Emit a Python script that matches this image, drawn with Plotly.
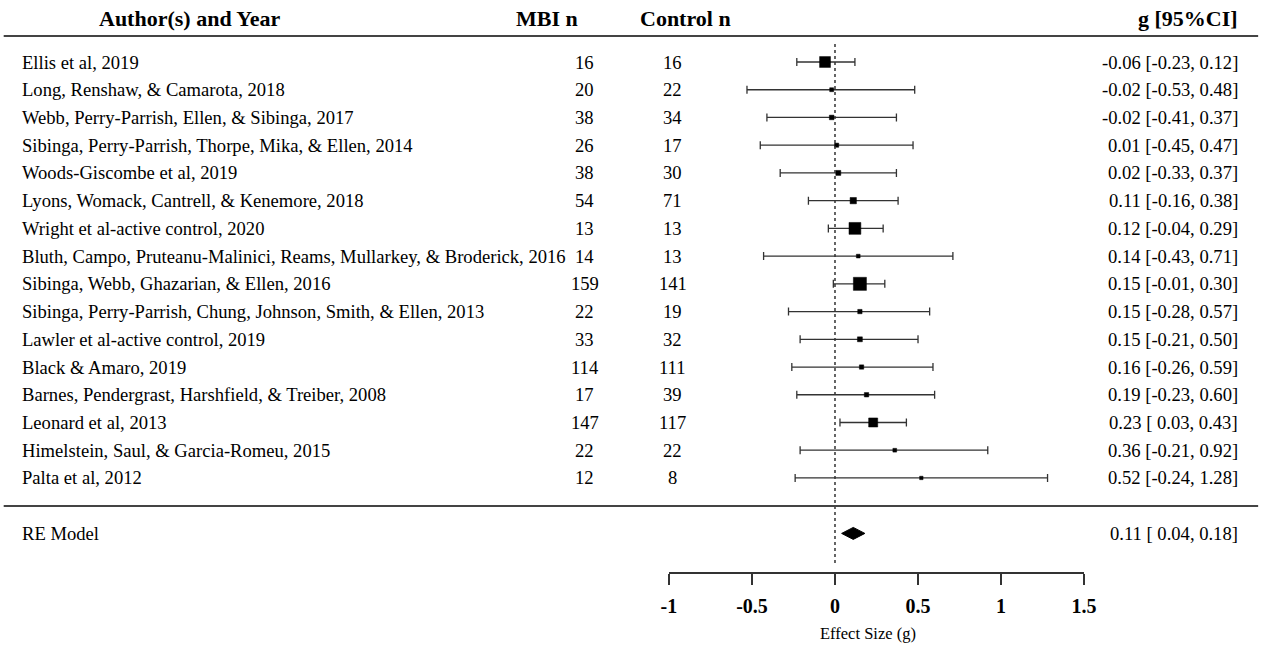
import plotly.graph_objects as go

# ---------------- data ----------------
authors = [
    "Ellis et al, 2019",
    "Long, Renshaw, & Camarota, 2018",
    "Webb, Perry-Parrish, Ellen, & Sibinga, 2017",
    "Sibinga, Perry-Parrish, Thorpe, Mika, & Ellen, 2014",
    "Woods-Giscombe et al, 2019",
    "Lyons, Womack, Cantrell, & Kenemore, 2018",
    "Wright et al-active control, 2020",
    "Bluth, Campo, Pruteanu-Malinici, Reams, Mullarkey, & Broderick, 2016",
    "Sibinga, Webb, Ghazarian, & Ellen, 2016",
    "Sibinga, Perry-Parrish, Chung, Johnson, Smith, & Ellen, 2013",
    "Lawler et al-active control, 2019",
    "Black & Amaro, 2019",
    "Barnes, Pendergrast, Harshfield, & Treiber, 2008",
    "Leonard et al, 2013",
    "Himelstein, Saul, & Garcia-Romeu, 2015",
    "Palta et al, 2012",
]
mbi_n = [16, 20, 38, 26, 38, 54, 13, 14, 159, 22, 33, 114, 17, 147, 22, 12]
control_n = [16, 22, 34, 17, 30, 71, 13, 13, 141, 19, 32, 111, 39, 117, 22, 8]
g = [-0.06, -0.02, -0.02, 0.01, 0.02, 0.11, 0.12, 0.14, 0.15, 0.15, 0.15, 0.16, 0.19, 0.23, 0.36, 0.52]
ci_lo = [-0.23, -0.53, -0.41, -0.45, -0.33, -0.16, -0.04, -0.43, -0.01, -0.28, -0.21, -0.26, -0.23, 0.03, -0.21, -0.24]
ci_hi = [0.12, 0.48, 0.37, 0.47, 0.37, 0.38, 0.29, 0.71, 0.30, 0.57, 0.50, 0.59, 0.60, 0.43, 0.92, 1.28]

re_label = "RE Model"
re_g, re_lo, re_hi = 0.11, 0.04, 0.18

headers = ["Author(s) and Year", "MBI n", "Control n", "g [95%CI]"]
tick_vals = [-1, -0.5, 0, 0.5, 1, 1.5]
tick_labels = ["-1", "-0.5", "0", "0.5", "1", "1.5"]
axis_title = "Effect Size (g)"

# ---------------- geometry ----------------
W, H = 1261, 649
FONT = "Liberation Serif, Times New Roman, serif"
k = len(authors)
rows = [k - i for i in range(k)]          # 16 .. 1
re_row = -1

# horizontal calibration of the rendered page (screen = OX + SX * paper_px)
SX, OX = 0.983, 8.3
def px(t):
    """target screen x (px) -> paper fraction"""
    return (t - OX) / (SX * W)

PX_PER_UNIT = 166.0
ZERO_PX = 835.0
x_left = (0 - ZERO_PX) / PX_PER_UNIT
x_right = (W - ZERO_PX) / PX_PER_UNIT
span = (x_right - x_left)
p0, p1 = px(0), px(W)
xr_left = x_left - p0 * span / (p1 - p0)
xr_right = xr_left + span / (p1 - p0)

ROW_H = 27.73
ROW1_PX = 62.0
def row_from_px(p):
    return k - (p - ROW1_PX) / ROW_H

AXIS_PX = 572.0
y_bottom = row_from_px(AXIS_PX)
y_top = row_from_px(0)

fig = go.Figure()

err_plus = [h - m for h, m in zip(ci_hi, g)]
err_minus = [m - l for m, l in zip(g, ci_lo)]
weights = [(3.92 / (h - l)) ** 2 for h, l in zip(ci_hi, ci_lo)]
sizes = [3.0 + 0.063 * w for w in weights]

fig.add_trace(go.Scatter(
    x=g, y=rows, mode="markers",
    marker=dict(symbol="square", size=sizes, color="#000000", opacity=1,
                line=dict(width=0.5, color="#000000")),
    error_x=dict(type="data", symmetric=False, array=err_plus, arrayminus=err_minus,
                 color="#333333", thickness=1.3, width=4),
    showlegend=False, hoverinfo="skip",
))

dh = 6.0 / ROW_H
fig.add_trace(go.Scatter(
    x=[re_lo, re_g, re_hi, re_g, re_lo],
    y=[re_row, re_row + dh, re_row, re_row - dh, re_row],
    mode="lines", fill="toself", fillcolor="black",
    line=dict(color="black", width=1), showlegend=False, hoverinfo="skip",
))

fig.add_trace(go.Scatter(x=[0], y=[re_row], xaxis="x2", yaxis="y", mode="markers",
                         marker=dict(opacity=0), showlegend=False, hoverinfo="skip"))

shapes = []
shapes.append(dict(type="line", xref="x", yref="y", x0=0, x1=0,
                   y0=row_from_px(44), y1=row_from_px(566),
                   line=dict(color="#333333", width=1.5, dash="dot")))
for p in (36, 506):
    shapes.append(dict(type="line", xref="paper", yref="y", x0=px(4), x1=px(1258),
                       y0=row_from_px(p), y1=row_from_px(p),
                       line=dict(color="#444444", width=1.8)))

ann = []
hy = row_from_px(18)
hfont = dict(family=FONT, size=22, color="black", weight="bold")
ann.append(dict(x=px(190), y=hy, text=headers[0], xanchor="center", font=hfont))
ann.append(dict(x=px(547), y=hy, text=headers[1], xanchor="center", font=hfont))
ann.append(dict(x=px(686), y=hy, text=headers[2], xanchor="center", font=hfont))
ann.append(dict(x=px(1240), y=hy, text=headers[3], xanchor="right", font=hfont))

rfont = dict(family=FONT, size=18.6, color="black")
for i in range(k):
    y = rows[i]
    ann.append(dict(x=px(20), y=y, text=authors[i], xanchor="left", font=rfont))
    ann.append(dict(x=px(585), y=y, text=str(mbi_n[i]), xanchor="center", font=rfont))
    ann.append(dict(x=px(673), y=y, text=str(control_n[i]), xanchor="center", font=rfont))
    lab = f"{g[i]:.2f} [{ci_lo[i]:5.2f}, {ci_hi[i]:.2f}]".replace("[ ", "[&nbsp;")
    ann.append(dict(x=px(1240), y=y, text=lab, xanchor="right", font=rfont))

ann.append(dict(x=px(20), y=re_row, text=re_label, xanchor="left", font=rfont))
re_lab = f"{re_g:.2f} [{re_lo:5.2f}, {re_hi:.2f}]".replace("[ ", "[&nbsp;")
ann.append(dict(x=px(1240), y=re_row, text=re_lab, xanchor="right", font=rfont))

for a in ann:
    a.update(xref="paper", yref="y", yanchor="middle", showarrow=False)

ann.append(dict(x=px(868), y=(H - 633) / H, xref="paper", yref="paper", text=axis_title,
                xanchor="center", yanchor="middle", showarrow=False,
                font=dict(family=FONT, size=16.5, color="black")))

fig.update_layout(
    width=W, height=H,
    margin=dict(l=0, r=0, t=0, b=0),
    plot_bgcolor="rgba(0,0,0,0)", paper_bgcolor="white",
    xaxis=dict(domain=[0, 1], range=[xr_left, xr_right], visible=False, fixedrange=True),
    xaxis2=dict(domain=[px(ZERO_PX - PX_PER_UNIT), px(ZERO_PX + 1.5 * PX_PER_UNIT)],
                range=[-1, 1.5],
                anchor="y", side="bottom", showgrid=False, zeroline=False,
                showline=True, linecolor="#333333", linewidth=1.5,
                ticks="outside", ticklen=11, tickwidth=1.5, tickcolor="#333333",
                ticklabelstandoff=4,
                tickvals=tick_vals, ticktext=[f"<b>{t}</b>" for t in tick_labels],
                tickfont=dict(family=FONT, size=20, color="black"), fixedrange=True),
    yaxis=dict(domain=[(H - AXIS_PX) / H, 1], range=[y_bottom, y_top], visible=False,
               fixedrange=True),
    shapes=shapes, annotations=ann,
)

fig.write_html("out.html", config={"displayModeBar": False},
               post_script="document.body.style.margin='0';document.body.style.overflow='hidden';")
